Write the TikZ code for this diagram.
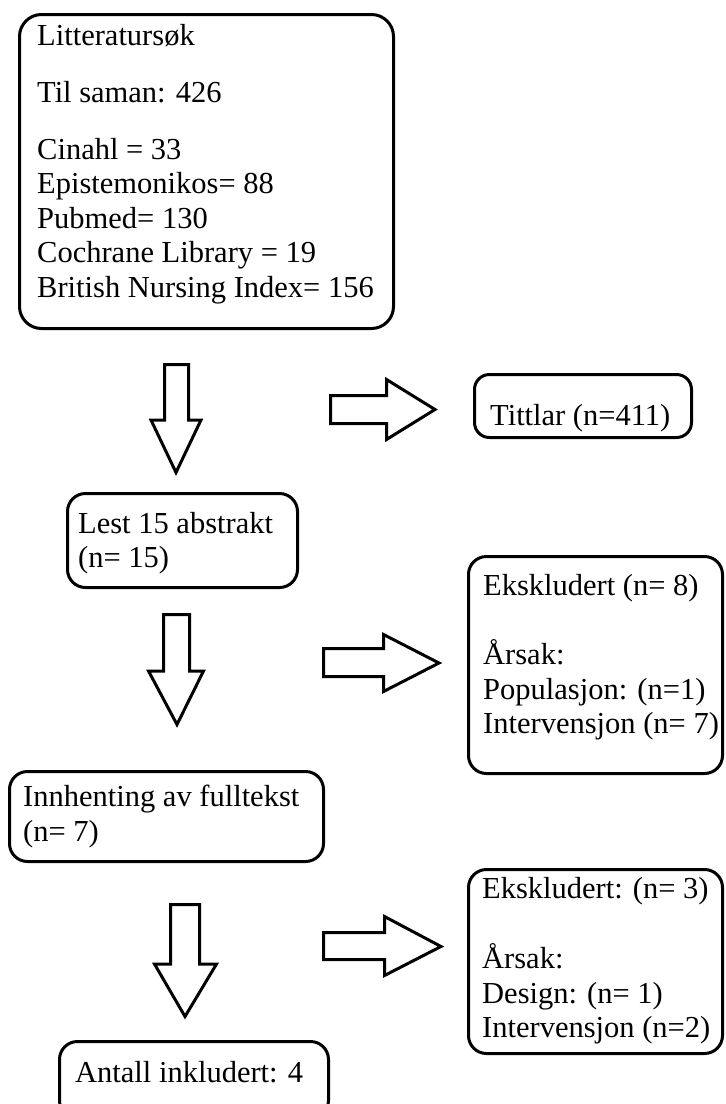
\documentclass[tikz,border=0pt]{standalone}
\usepackage{fontspec}
\setmainfont{Liberation Serif}
\begin{document}
\begin{tikzpicture}[x=1pt,y=-1pt,
  box/.style={draw, line width=3pt, rounded corners=18pt, anchor=north west, inner sep=0pt, outer sep=0pt},
  txt/.style={anchor=base west, inner sep=0pt, font=\fontsize{30.5}{34.5}\selectfont},
  blockarrow/.style={draw, line width=3pt, line join=miter, miter limit=10, fill=white}]
\useasboundingbox (0,0) rectangle (726,1104);
\clip (0,0) rectangle (726,1104);
\fill[white] (0,0) rectangle (726,1104);
% boxes
\node[box, rounded corners=22pt, minimum width=374pt, minimum height=314pt] (lit) at (19.5,14.5) {};
\node[box, rounded corners=15pt, minimum width=217pt, minimum height=63pt] (tit) at (474.5,374.5) {};
\node[box, minimum width=230pt, minimum height=94pt] (lest) at (67.5,493.5) {};
\node[box, minimum width=254pt, minimum height=217pt] (eks1) at (468.5,556.5) {};
\node[box, minimum width=314pt, minimum height=90pt] (innh) at (9.5,771.5) {};
\node[box, minimum width=254pt, minimum height=184pt] (eks2) at (468.5,869.5) {};
\node[box, minimum width=269pt, minimum height=77pt] (ant) at (59.5,1041.5) {};
% texts
\node[txt] (t1) at (37,45) {Litteratursøk};
\node[txt] (t2) at (37,102) {Til saman: 426};
\node[txt] (t3) at (37,159) {Cinahl = 33};
\node[txt] (t4) at (37,193) {Epistemonikos= 88};
\node[txt] (t5) at (37,228) {Pubmed= 130};
\node[txt] (t6) at (37,262) {Cochrane Library = 19};
\node[txt] (t7) at (37,297) {British Nursing Index= 156};
\node[txt] (t8) at (490,425) {Tittlar (n=411)};
\node[txt] (t9) at (78,533) {Lest 15 abstrakt};
\node[txt] (t10) at (78,567) {(n= 15)};
\node[txt] (t11) at (483,595) {Ekskludert (n= 8)};
\node[txt] (t12) at (483,664) {Årsak:};
\node[txt] (t13) at (483,699) {Populasjon: (n=1)};
\node[txt] (t14) at (483,733) {Intervensjon (n= 7)};
\node[txt] (t15) at (23,806) {Innhenting av fulltekst};
\node[txt] (t16) at (23,841) {(n= 7)};
\node[txt] (t17) at (482,898) {Ekskludert: (n= 3)};
\node[txt] (t18) at (482,968) {Årsak:};
\node[txt] (t19) at (482,1003) {Design: (n= 1)};
\node[txt] (t20) at (482,1037) {Intervensjon (n=2)};
\node[txt] (t21) at (75,1082) {Antall inkludert: 4};
% down arrows
\draw[blockarrow] (164.5,364.5) -- (188.5,364.5) -- (188.5,420) -- (201,420) -- (176,472.5) -- (151,420) -- (164.5,420) -- cycle;
\draw[blockarrow] (163.5,614.5) -- (189.5,614.5) -- (189.5,671) -- (203.5,671) -- (177,724.5) -- (148.5,671) -- (163.5,671) -- cycle;
\draw[blockarrow] (170.5,904.5) -- (199.5,904.5) -- (199.5,964) -- (216.5,964) -- (185,1016.5) -- (154.5,964) -- (170.5,964) -- cycle;
% right arrows
\draw[blockarrow] (330.5,395.5) -- (386.5,395.5) -- (386.5,379.5) -- (435,409.5) -- (386.5,439.5) -- (386.5,423.5) -- (330.5,423.5) -- cycle;
\draw[blockarrow] (323.5,648.5) -- (383.5,648.5) -- (383.5,634.5) -- (439,663) -- (383.5,691.5) -- (383.5,676.5) -- (323.5,676.5) -- cycle;
\draw[blockarrow] (323.5,932.5) -- (384.5,932.5) -- (384.5,916.5) -- (441,946.5) -- (384.5,975.5) -- (384.5,959.5) -- (323.5,959.5) -- cycle;
\end{tikzpicture}
\end{document}
